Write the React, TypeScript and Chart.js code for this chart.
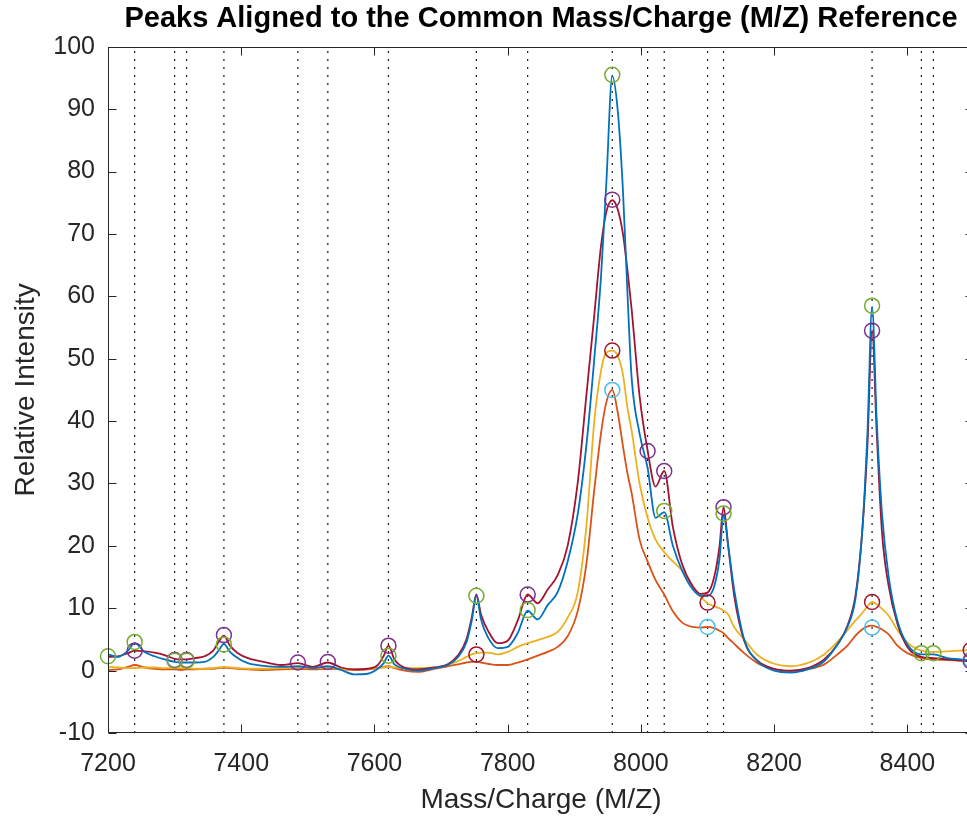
import React, { useEffect, useRef } from "react";
import { Chart, registerables } from "chart.js";

Chart.register(...registerables);

// ---- Data ----
const mz = [
  7200, 7215, 7230, 7240, 7255, 7270, 7285, 7300, 7310, 7318,
  7330, 7345, 7358, 7366, 7374, 7383, 7395, 7410, 7430, 7460,
  7485, 7508, 7530, 7550, 7570, 7590, 7605, 7614, 7621, 7630,
  7645, 7665, 7690, 7710, 7725, 7738, 7746, 7753, 7760, 7770,
  7785, 7800, 7815, 7830, 7845, 7860, 7875, 7890, 7905, 7918,
  7930, 7940, 7948, 7957, 7965, 7973, 7980, 7986, 7998, 8010,
  8022, 8035, 8048, 8062, 8078, 8090, 8100, 8110, 8118, 8124,
  8131, 8140, 8155, 8175, 8200, 8225, 8250, 8275, 8295, 8310,
  8322, 8332, 8340, 8347, 8354, 8362, 8372, 8385, 8400, 8421,
  8439, 8460, 8480, 8495, 8500,
];

const spectrumBlue = [
  2.6, 2.2, 3.2, 4.4, 3.0, 2.3, 1.8, 1.4, 1.3, 1.3,
  1.3, 1.4, 2.2, 3.2, 4.3, 3.0, 2.0, 1.2, 0.8, 0.6,
  0.7, 0.4, 0.7, 0.1, -0.6, -0.5, 0.3, 1.2, 2.4, 1.0,
  0.3, 0.0, 0.4, 0.9, 2.1, 4.5, 8.0, 12.0, 8.2, 5.4,
  3.6, 3.8, 6.0, 9.6, 8.2, 10.5, 12.6, 17.5, 25, 36,
  50, 63, 78, 95.3, 90, 77, 60, 47, 38, 32.5,
  24.5, 25.4, 20, 16, 13, 12, 12, 13.5, 18, 25,
  20, 13, 5, 1.5, 0, -0.3, 0.2, 1.5, 4.2, 7,
  11.5, 22, 38, 58.3, 40, 25, 15, 8, 4.2, 2.6,
  2.6, 2.0, 1.8, 1.6, 1.6,
];

const spectrumCrimson = [
  2.2, 2.3, 2.8, 3.2, 3.1, 2.9, 2.5, 1.9, 1.8, 1.8,
  2.0, 2.3, 3.2, 4.6, 5.6, 4.0, 2.8, 2.0, 1.5, 0.9,
  1.2, 0.6, 1.3, 0.5, 0.2, 0.3, 0.9, 2.4, 4.0, 1.8,
  0.5, 0.2, 0.5, 1.0, 2.4, 5.0, 8.5, 12.2, 9.0, 6.5,
  4.4, 4.8, 8.0, 12.2, 10.8, 13.0, 15.3, 20, 30, 44,
  57, 68, 73.5, 75.4, 74, 70, 64, 58, 44, 35.3,
  29.5, 32, 23, 17, 13.5, 12.3, 12.5, 15, 20, 26.2,
  20, 12, 4.8, 1.6, 0.3, 0.0, 0.4, 1.8, 4.2, 7.2,
  12, 22, 36, 54.5, 38, 22, 13.5, 7.5, 3.8, 2.2,
  2.0, 1.8, 1.6, 1.5, 1.5,
];

const spectrumYellow = [
  0.6, 0.5, 0.4, 0.4, 0.5, 0.5, 0.4, 0.4, 0.4, 0.4,
  0.3, 0.3, 0.4, 0.5, 0.6, 0.5, 0.4, 0.3, 0.3, 0.4,
  0.5, 0.5, 0.4, 0.3, 0.2, 0.3, 0.4, 0.5, 0.6, 0.5,
  0.4, 0.4, 0.5, 0.9, 1.5, 2.2, 2.6, 2.8, 2.9, 2.9,
  2.6, 3.0, 3.8, 4.4, 4.9, 5.4, 6.2, 8.5, 12.5, 23,
  40, 48, 51, 51.3, 50.5, 47.5, 42, 38.5, 30, 24.5,
  21, 19, 17.5, 16, 13.5, 11.8, 10.8, 10.3, 10.0, 9.6,
  9.0, 7.0, 5.0, 2.5, 1.1, 0.7, 1.2, 2.6, 4.6, 6.5,
  8.0, 9.2, 10.3, 11.0, 10.6, 9.9, 8.8, 6.5, 4.5, 3.2,
  3.0, 3.1, 3.2, 3.3, 3.3,
];

const spectrumOrange = [
  0.1, 0.2, 0.6, 0.9, 0.5, 0.3, 0.2, 0.2, 0.1, 0.2,
  0.2, 0.3, 0.3, 0.4, 0.5, 0.4, 0.3, 0.2, 0.1, 0.2,
  0.3, 0.2, 0.3, 0.2, 0.1, 0.2, 0.4, 0.6, 0.7, 0.4,
  0.0, -0.2, 0.3, 0.7, 1.0, 1.3, 1.4, 1.4, 1.3, 1.1,
  0.9, 0.9, 1.3, 1.8, 2.4, 3.0, 3.8, 5.5, 9.5, 17,
  29, 38, 43, 45, 41.5, 36, 31.5, 28.5, 21, 17.5,
  14.5, 12.2, 9.5, 7.7, 7.0, 6.9, 7.0, 6.8, 6.4, 6.0,
  5.2, 4.3, 2.8, 1.2, 0.2, -0.2, 0.2, 1.0, 2.6, 4.0,
  5.6, 6.6, 7.1, 7.2, 7.0, 6.6, 5.8, 4.0, 2.8, 2.0,
  1.8, 1.7, 1.6, 1.5, 1.5,
];

// common reference peak positions (dotted lines)
const referencePeaks = [
  7200, 7240, 7300, 7318, 7374, 7485, 7530, 7621, 7753, 7830,
  7957, 8010, 8035, 8100, 8124, 8347, 8421, 8439, 8495,
];

// detected peaks (markers)
const greenPeakX = [7200, 7240, 7300, 7318, 7374, 7621, 7753, 7830, 7957, 8035, 8124, 8347, 8421, 8439];
const greenPeakY = [2.3, 4.6, 1.6, 1.6, 4.2, 2.4, 12, 9.7, 95.5, 25.6, 25.2, 58.5, 2.8, 2.8];
const purplePeakX = [7240, 7300, 7318, 7374, 7485, 7530, 7621, 7830, 7957, 8010, 8035, 8124, 8347, 8495];
const purplePeakY = [3.2, 1.7, 1.7, 5.7, 1.3, 1.4, 4.0, 12.2, 75.5, 35.2, 32, 26.2, 54.5, 1.5];
const darkRedPeakX = [7753, 7957, 8100, 8347, 8495];
const darkRedPeakY = [2.6, 51.3, 10.9, 11, 3.3];
const lightBluePeakX = [7957, 8100, 8347, 8495];
const lightBluePeakY = [45, 7, 6.9, 1.8];

const xTickStep = 200;
const yTickStep = 10;

const TEXT = "#262626";
const FONT = "'Liberation Sans', Arial, Helvetica, sans-serif";

const toPoints = (xs: number[], ys: number[]) => xs.map((x, i) => ({ x, y: ys[i] }));

const boxPlugin = {
  id: "matlabBox",
  afterDatasetsDraw(chart: any) {
    const { ctx, chartArea: a, scales } = chart;
    const xs = scales.x;
    const ys = scales.y;
    const L = Math.round(a.left) + 0.5;
    const R = Math.round(a.right) - 0.5;
    const T = Math.round(a.top) + 0.5;
    const B = Math.round(a.bottom) - 0.5;
    const tl = 8;
    ctx.save();
    ctx.strokeStyle = TEXT;
    ctx.lineWidth = 1;
    ctx.beginPath();
    ctx.rect(L, T, R - L, B - T);
    xs.ticks.forEach((t: any) => {
      const px = Math.round(xs.getPixelForValue(t.value)) + 0.5;
      ctx.moveTo(px, B);
      ctx.lineTo(px, B - tl);
      ctx.moveTo(px, T);
      ctx.lineTo(px, T + tl);
    });
    ys.ticks.forEach((t: any) => {
      const py = Math.round(ys.getPixelForValue(t.value)) + 0.5;
      ctx.moveTo(L, py);
      ctx.lineTo(L + tl, py);
      ctx.moveTo(R, py);
      ctx.lineTo(R - tl, py);
    });
    ctx.stroke();
    ctx.restore();
  },
};

export default function App() {
  const ref = useRef<HTMLCanvasElement | null>(null);

  useEffect(() => {
    if (!ref.current) return;

    const markerSet = (xs: number[], ys: number[], color: string) => ({
      data: toPoints(xs, ys),
      showLine: false,
      pointRadius: 7.5,
      pointHoverRadius: 7.5,
      pointBorderWidth: 1.5,
      pointBorderColor: color,
      pointBackgroundColor: "rgba(0,0,0,0)",
      borderColor: color,
      clip: false as any,
    });

    const spectrumSet = (ys: number[], color: string) => ({
      data: toPoints(mz, ys),
      borderColor: color,
      borderWidth: 1.8,
      pointRadius: 0,
      cubicInterpolationMode: "monotone" as const,
      fill: false,
    });

    const dottedSets = referencePeaks.map((p) => ({
      data: [
        { x: p, y: -10 },
        { x: p, y: 100 },
      ],
      borderColor: "#1a1a1a",
      borderWidth: 1.2,
      borderDash: [2, 6],
      pointRadius: 0,
      fill: false,
    }));

    const chart = new Chart(ref.current, {
      type: "line",
      data: {
        datasets: [
          markerSet(greenPeakX, greenPeakY, "#77AC30"),
          markerSet(purplePeakX, purplePeakY, "#7E2F8E"),
          markerSet(darkRedPeakX, darkRedPeakY, "#A2142F"),
          markerSet(lightBluePeakX, lightBluePeakY, "#4DBEEE"),
          spectrumSet(spectrumBlue, "#0072BD"),
          spectrumSet(spectrumCrimson, "#A2142F"),
          spectrumSet(spectrumYellow, "#EDB120"),
          spectrumSet(spectrumOrange, "#D95319"),
          ...dottedSets,
        ] as any,
      },
      options: {
        animation: false,
        responsive: false,
        devicePixelRatio: 1,
        events: [],
        layout: { padding: { left: 0, right: 16, top: 0, bottom: 0 } },
        plugins: {
          legend: { display: false },
          tooltip: { enabled: false },
          title: {
            display: true,
            text: "Peaks Aligned to the Common Mass/Charge (M/Z) Reference",
            fullSize: false,
            color: "#000000",
            font: { family: FONT, size: 29, weight: "bold" },
            padding: { top: 2, bottom: 10 },
          },
        },
        scales: {
          x: {
            type: "linear",
            min: 7200,
            max: 8500,
            grid: { display: false, drawTicks: false },
            border: { display: false },
            ticks: {
              stepSize: xTickStep,
              includeBounds: false,
              autoSkip: false,
              maxRotation: 0,
              color: TEXT,
              padding: 16,
              font: { family: FONT, size: 25 },
              callback: (v: any) => String(v),
            },
            title: {
              display: true,
              text: "Mass/Charge (M/Z)",
              color: TEXT,
              font: { family: FONT, size: 28 },
              padding: { top: 0, bottom: 2 },
            },
            afterFit: (s: any) => {
              s.height = 86;
            },
          },
          y: {
            type: "linear",
            min: -10,
            max: 100,
            grid: { display: false, drawTicks: false },
            border: { display: false },
            ticks: {
              stepSize: yTickStep,
              autoSkip: false,
              color: TEXT,
              padding: 13,
              font: { family: FONT, size: 25 },
              callback: (v: any) => String(v),
            },
            title: {
              display: true,
              text: "Relative Intensity",
              color: TEXT,
              font: { family: FONT, size: 28 },
              padding: { top: 9, bottom: 0 },
            },
            afterFit: (s: any) => {
              s.width = 108;
            },
          },
        },
      } as any,
      plugins: [boxPlugin],
    });

    return () => chart.destroy();
  }, []);

  return (
    <div
      style={{
        position: "fixed",
        left: 0,
        top: 0,
        width: "967px",
        height: "819px",
        overflow: "hidden",
        background: "#ffffff",
      }}
    >
      <canvas ref={ref} width={990} height={819} style={{ display: "block" }} />
    </div>
  );
}
